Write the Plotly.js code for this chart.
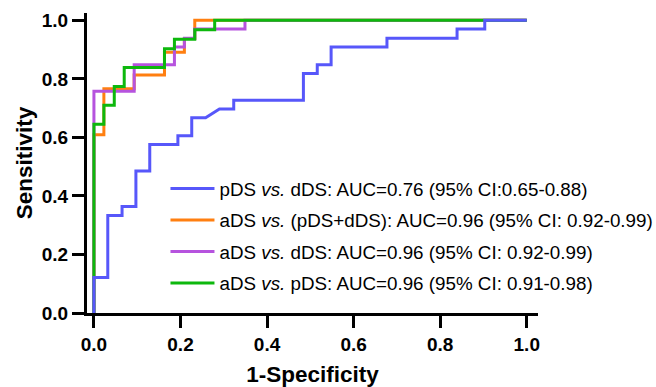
<!DOCTYPE html>
<html>
<head>
<meta charset="utf-8">
<script src="https://cdn.plot.ly/plotly-3.0.1.min.js"></script>
<style>html,body{margin:0;padding:0;background:#fff;}#chart{width:656px;height:387px;}</style>
</head>
<body>
<div id="chart"></div>
<script>
// ROC curve vertices (1-Specificity, Sensitivity)
const pdsVsDdsX = [0,0,0.032,0.032,0.065,0.065,0.097,0.097,0.129,0.129,0.194,0.194,0.226,0.226,0.258,0.290,0.323,0.323,0.484,0.484,0.516,0.516,0.548,0.548,0.677,0.677,0.839,0.839,0.903,0.903,1.0];
const pdsVsDdsY = [0,0.121,0.121,0.333,0.333,0.364,0.364,0.485,0.485,0.576,0.576,0.606,0.606,0.667,0.667,0.697,0.697,0.727,0.727,0.818,0.818,0.848,0.848,0.909,0.909,0.939,0.939,0.970,0.970,1.0,1.0];

const adsVsPdDsX = [0,0,0.023,0.023,0.093,0.093,0.163,0.163,0.209,0.209,0.233,0.233,1.0];
const adsVsPdDsY = [0,0.609,0.609,0.766,0.766,0.813,0.813,0.891,0.891,0.938,0.938,1.0,1.0];

const adsVsDdsX = [0,0,0.093,0.093,0.186,0.186,0.209,0.209,0.233,0.233,0.349,0.349,1.0];
const adsVsDdsY = [0,0.758,0.758,0.848,0.848,0.909,0.909,0.939,0.939,0.970,0.970,1.0,1.0];

const adsVsPdsX = [0,0,0.023,0.023,0.047,0.047,0.070,0.070,0.163,0.163,0.186,0.186,0.233,0.233,0.279,0.279,1.0];
const adsVsPdsY = [0,0.645,0.645,0.710,0.710,0.774,0.774,0.839,0.839,0.903,0.903,0.935,0.935,0.968,0.968,1.0,1.0];

const seriesNames = [
  'pDS <i>vs.</i> dDS: AUC=0.76 (95% CI:0.65-0.88)',
  'aDS <i>vs.</i> (pDS+dDS): AUC=0.96 (95% CI: 0.92-0.99)',
  'aDS <i>vs.</i> dDS: AUC=0.96 (95% CI: 0.92-0.99)',
  'aDS <i>vs.</i> pDS: AUC=0.96 (95% CI: 0.91-0.98)'
];
const seriesColors = ['#5757FA', '#FF7F10', '#B653DE', '#0DB80D'];

const FONT = 'Arial, "Liberation Sans", sans-serif';
function tr(x, y, i, rank) {
  return {
    x: x, y: y, type: 'scatter', mode: 'lines', name: seriesNames[i],
    line: {color: seriesColors[i], width: 3, shape: 'linear'},
    legendrank: rank, legendgroup: 'g' + i, hoverinfo: 'skip'
  };
}
// draw order bottom->top: orange, purple, green, blue
const data = [
  tr(adsVsPdDsX, adsVsPdDsY, 1, 2),
  tr(adsVsDdsX, adsVsDdsY, 2, 3),
  tr(adsVsPdsX, adsVsPdsY, 3, 4),
  tr(pdsVsDdsX, pdsVsDdsY, 0, 1)
];

const axisCommon = {
  showgrid: false, zeroline: false, showline: true, linecolor: '#000', linewidth: 3,
  ticks: 'outside', ticklen: 12, tickwidth: 3, tickcolor: '#000',
  tickvals: [0, 0.2, 0.4, 0.6, 0.8, 1.0], tickformat: '.1f',
  tickfont: {family: FONT, size: 19, color: '#000', weight: 'bold'},
  fixedrange: true, automargin: false
};

const layout = {
  width: 656, height: 387,
  margin: {l: 87, r: 118, t: 13, b: 74, autoexpand: false},
  paper_bgcolor: '#fff', plot_bgcolor: '#fff',
  showlegend: true,
  xaxis: Object.assign({}, axisCommon, {
    range: [-0.016, 1.026],
    title: {text: '1-Specificity', font: {family: FONT, size: 22.5, color: '#000', weight: 'bold'}, standoff: 14}
  }),
  yaxis: Object.assign({}, axisCommon, {
    range: [0, 1.025],
    title: {text: 'Sensitivity', font: {family: FONT, size: 22.5, color: '#000', weight: 'bold'}, standoff: 3}
  }),
  legend: {
    x: 0.174, y: 0.477, xanchor: 'left', yanchor: 'top',
    bgcolor: 'rgba(0,0,0,0)', borderwidth: 0,
    font: {family: FONT, size: 18.8, color: '#000'},
    itemwidth: 44, traceorder: 'grouped', tracegroupgap: 4
  }
};

Plotly.newPlot('chart', data, layout, {displayModeBar: false, staticPlot: true});
</script>
</body>
</html>
